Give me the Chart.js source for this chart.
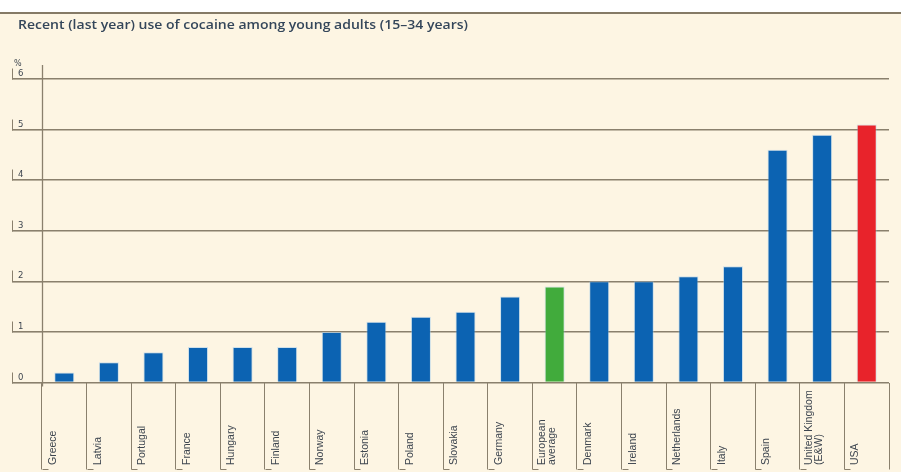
<!DOCTYPE html>
<html>
<head>
<meta charset="utf-8">
<script src="https://cdn.jsdelivr.net/npm/chart.js@4/dist/chart.umd.min.js"></script>
<style>
  html, body { margin: 0; padding: 0; background: #ffffff; }
  #wrap { width: 901px; height: 472px; }
</style>
</head>
<body>
<div id="wrap"><canvas id="chart"></canvas></div>
<script>
// DATA
const titleText = 'Recent (last year) use of cocaine among young adults (15\u201334 years)';
const unitLabel = '%';
const countries = [
  ['Greece'], ['Latvia'], ['Portugal'], ['France'], ['Hungary'], ['Finland'],
  ['Norway'], ['Estonia'], ['Poland'], ['Slovakia'], ['Germany'],
  ['European', 'average'], ['Denmark'], ['Ireland'], ['Netherlands'], ['Italy'],
  ['Spain'], ['United Kingdom', '(E&W)'], ['USA']
];
const usePercent = [0.2, 0.4, 0.6, 0.7, 0.7, 0.7, 1.0, 1.2, 1.3, 1.4, 1.7, 1.9, 2.0, 2.0, 2.1, 2.3, 4.6, 4.9, 5.1];
const barColors = [
  '#0c63b2', '#0c63b2', '#0c63b2', '#0c63b2', '#0c63b2', '#0c63b2', '#0c63b2',
  '#0c63b2', '#0c63b2', '#0c63b2', '#0c63b2', '#41ab3c', '#0c63b2', '#0c63b2',
  '#0c63b2', '#0c63b2', '#0c63b2', '#0c63b2', '#e8232b'
];
const yTicks = [0, 1, 2, 3, 4, 5, 6];

const LINE = '#8a806d';
const TEXT = '#3e4650';

// DECORATIONS: background, title, brackets, rotated category labels
const decor = {
  id: 'decor',
  beforeDraw(chart) {
    const { ctx, width, height } = chart;
    ctx.save();
    ctx.fillStyle = '#fdf5e3';
    ctx.fillRect(0, 13, width, height - 13);
    ctx.strokeStyle = '#857a66';
    ctx.lineWidth = 1.8;
    ctx.beginPath();
    ctx.moveTo(0, 13);
    ctx.lineTo(width, 13);
    ctx.stroke();
    ctx.restore();
  },
  afterDraw(chart) {
    const { ctx, chartArea } = chart;
    const x = chart.scales.x, y = chart.scales.y;
    ctx.save();

    // title, stretched to the reference width
    ctx.fillStyle = '#34465a';
    ctx.font = '600 12.5px "Open Sans", sans-serif';
    ctx.textBaseline = 'alphabetic';
    const tw = ctx.measureText(titleText).width;
    ctx.save();
    ctx.translate(18, 29);
    ctx.scale(450 / tw, 1);
    ctx.fillText(titleText, 0, 0);
    ctx.restore();

    // % unit
    ctx.fillStyle = TEXT;
    ctx.font = '8px "DejaVu Sans", sans-serif';
    ctx.fillText(unitLabel, 14, 66);

    // y axis line
    ctx.strokeStyle = LINE;
    ctx.lineWidth = 1.3;
    ctx.beginPath();
    ctx.moveTo(chartArea.left + 0.5, chartArea.top - 14);
    ctx.lineTo(chartArea.left + 0.5, chartArea.bottom + 4);
    ctx.stroke();

    // brackets + labels for y ticks
    ctx.lineWidth = 1;
    ctx.font = '8.5px "DejaVu Sans", sans-serif';
    ctx.textBaseline = 'middle';
    yTicks.forEach(v => {
      const py = Math.round(y.getPixelForValue(v)) + 0.5;
      ctx.beginPath();
      ctx.moveTo(12.5, py - 11);
      ctx.lineTo(12.5, py);
      ctx.stroke();
      ctx.fillText(String(v), 18, py - 6);
    });

    // foot at bottom of each category separator
    const step = x.getPixelForValue(1) - x.getPixelForValue(0);
    const footY = 469.5;
    countries.forEach((c, i) => {
      const sx = Math.round(x.getPixelForValue(i) - step / 2) + 0.5;
      ctx.beginPath();
      ctx.moveTo(sx, footY);
      ctx.lineTo(sx + 6, footY);
      ctx.stroke();
    });

    // rotated category labels
    ctx.fillStyle = TEXT;
    ctx.font = '10.5px "Liberation Sans", sans-serif';
    ctx.textAlign = 'left';
    ctx.textBaseline = 'alphabetic';
    countries.forEach((lines, i) => {
      const sx = x.getPixelForValue(i) - step / 2;
      const n = lines.length;
      lines.forEach((t, j) => {
        const bx = n === 1 ? sx + 14 : sx + 12.5 + j * 10;
        ctx.save();
        ctx.translate(bx, 465);
        ctx.rotate(-Math.PI / 2);
        ctx.fillText(t, 0, 0);
        ctx.restore();
      });
    });

    ctx.restore();
  }
};

new Chart(document.getElementById('chart'), {
  type: 'bar',
  data: {
    labels: countries.map(c => c.join(' ')),
    datasets: [{
      data: usePercent,
      backgroundColor: barColors,
      borderColor: 'rgba(150, 200, 240, 0.45)',
      borderWidth: 1,
      borderSkipped: 'bottom',
      barPercentage: 0.45,
      categoryPercentage: 1.0
    }]
  },
  options: {
    responsive: true,
    maintainAspectRatio: false,
    animation: false,
    layout: { padding: { top: 79, left: 0, right: 12, bottom: 0 } },
    plugins: {
      legend: { display: false },
      title: { display: false },
      tooltip: { enabled: false }
    },
    scales: {
      x: {
        offset: true,
        border: { display: false },
        grid: {
          offset: true,
          drawOnChartArea: false,
          drawTicks: true,
          tickLength: 87,
          color: ctx => (ctx.index === countries.length ? 'rgba(0,0,0,0)' : LINE),
          lineWidth: 1
        },
        ticks: { display: false },
        afterFit: s => { s.height = 89.5; }
      },
      y: {
        min: 0,
        max: 6,
        border: { display: false },
        grid: {
          color: LINE,
          lineWidth: 1.6,
          drawTicks: true,
          tickLength: 30
        },
        ticks: { display: false, stepSize: 1 },
        afterFit: s => { s.width = 42; }
      }
    }
  },
  plugins: [decor]
});
</script>
</body>
</html>
